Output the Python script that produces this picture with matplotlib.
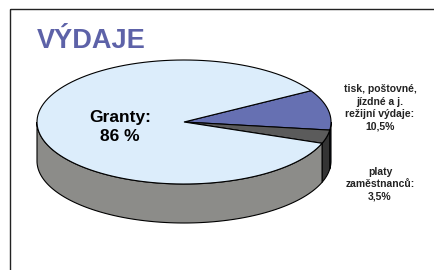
import numpy as np
import matplotlib
matplotlib.use("Agg")
import matplotlib.pyplot as plt
from matplotlib.patches import Polygon, Rectangle

# data
labels = ["tisk, poštovné,\njízdné a j.\nrežijní výdaje:\n10,5%",
          "platy\nzaměstnanců:\n3,5%",
          "Granty:\n86 %"]
values = [10.5, 3.5, 86.0]
top_colors = ["#6670b2", "#5b5b5b", "#dcedfb"]
side_colors = ["#3b4070", "#343434", "#8c8c89"]
title = "VÝDAJE"

# pie geometry (pixel coords of the figure)
cx, cy = 184, 122
a, b = 147, 62
depth = 39
start = 30.3  # degrees, slices go clockwise

fig = plt.figure(figsize=(4.34, 2.70), dpi=100)
ax = fig.add_axes([0, 0, 1, 1])
ax.set_xlim(0, 434)
ax.set_ylim(270, 0)
ax.axis("off")

# frame
ax.add_patch(Rectangle((10, 9), 440, 280, fill=False, ec="#222222", lw=1.0))


def pts(t0, t1, dy=0, n=120):
    t = np.radians(np.linspace(t0, t1, n))
    return np.column_stack([cx + a * np.cos(t), cy - b * np.sin(t) + dy])


angles = []
t = start
for v in values:
    t_end = t - v / sum(values) * 360
    angles.append((t, t_end))
    t = t_end

# sides (front half only: angles between -180 and 0)
for (t0, t1), sc in zip(angles, side_colors):
    for shift in (0, 360):
        hi = min(t0 + shift, 0)
        lo = max(t1 + shift, -180)
        if hi > lo:
            top = pts(hi, lo)
            bot = pts(lo, hi, dy=depth)
            ax.add_patch(Polygon(np.vstack([top, bot]), closed=True,
                                 fc=sc, ec="black", lw=0.8, zorder=2))

# top faces
for (t0, t1), tc in zip(angles, top_colors):
    arc = pts(t0, t1)
    poly = np.vstack([[cx, cy], arc])
    ax.add_patch(Polygon(poly, closed=True, fc=tc, ec="black", lw=0.8,
                         zorder=3))

# texts
ax.text(37, 41, title, fontsize=19.5, fontweight="bold", color="#5d62a8",
        family="Liberation Sans", va="center", ha="left")
ax.text(120, 127, labels[2], fontsize=12.5, fontweight="bold",
        family="Liberation Sans", ha="center", va="center",
        linespacing=1.4, zorder=4)
ax.text(380, 108, labels[0], fontsize=7.5, fontweight="bold",
        family="Liberation Sans", ha="center", va="center",
        linespacing=1.3, color="#222222")
ax.text(380, 184, labels[1], fontsize=7.5, fontweight="bold",
        family="Liberation Sans", ha="center", va="center",
        linespacing=1.3, color="#222222")

plt.savefig("out.png", dpi=100)
